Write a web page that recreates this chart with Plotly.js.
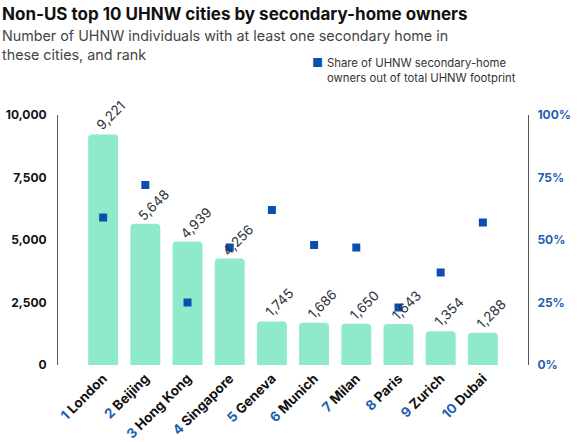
<!DOCTYPE html>
<html>
<head>
<meta charset="utf-8">
<script src="https://cdn.plot.ly/plotly-3.0.1.min.js"></script>
<style>html,body{margin:0;padding:0;background:#fff}#chart{width:578px;height:442px}</style>
</head>
<body>
<div id="chart"></div>
<script>
const ranks = ["1","2","3","4","5","6","7","8","9","10"];
const cities = ["London","Beijing","Hong Kong","Singapore","Geneva","Munich","Milan","Paris","Zurich","Dubai"];
const owners = [9221,5648,4939,4256,1745,1686,1650,1643,1354,1288];
const sharePct = [59,72,25,47,62,48,47,23,37,57];
const leftTicks = [0,2500,5000,7500,10000];
const rightTicks = [0,25,50,75,100];

const FONT = "Inter, 'Noto Sans', sans-serif";
const BLUE = "#0b4fae";
const tickText = cities.map((c,i)=>`<span style="color:#1f5fb0">${ranks[i]}</span> ${c}`);

const bars = {
  type:'bar', x:cities, y:owners,
  marker:{color:'#8eeac8', cornerradius:4},
  width:0.71,
  hoverinfo:'skip', showlegend:false
};
const pts = {
  type:'scatter', mode:'markers', x:cities, y:sharePct, yaxis:'y2',
  marker:{symbol:'square', size:8, color:BLUE},
  name:'Share of UHNW secondary-home owners out of total UHNW footprint',
  showlegend:false, cliponaxis:false
};

const valueLabels = cities.map((c,i)=>({
  x:c, y:owners[i], xref:'x', yref:'y', showarrow:false,
  text:owners[i].toLocaleString('en-US'), textangle:-45,
  xanchor:'center', yanchor:'middle', xshift:8, yshift:19,
  font:{family:FONT,size:13.5,color:'#2e3440'}
}));

const layout = {
  width:578, height:442,
  margin:{l:58, r:50, t:115, b:77},
  paper_bgcolor:'#fff', plot_bgcolor:'#fff',
  font:{family:FONT, color:'#111'},
  xaxis:{
    type:'category', range:[-1.07,10.07], tickangle:-45,
    tickmode:'array', tickvals:cities, ticktext:tickText,
    tickfont:{family:FONT,size:13.5,color:'#111',weight:700},
    showgrid:false, showline:false, zeroline:false, ticks:'', ticklabelstandoff:2
  },
  yaxis:{
    range:[0,10000], tickvals:leftTicks,
    ticktext:leftTicks.map(v=>v.toLocaleString('en-US')),
    tickfont:{family:FONT,size:12,color:'#111',weight:700},
    showgrid:false, zeroline:false, showline:true, linecolor:'#555', linewidth:1,
    ticks:'', ticklabelstandoff:8
  },
  yaxis2:{
    overlaying:'y', side:'right', range:[0,100], tickvals:rightTicks,
    ticktext:rightTicks.map(v=>v+'%'),
    tickfont:{family:FONT,size:12,color:'#1f5fb0',weight:700},
    showgrid:false, zeroline:false, showline:true, linecolor:'#555', linewidth:1,
    ticks:'', ticklabelstandoff:6
  },
  annotations:[
    {xref:'paper',yref:'paper',x:-58/470,y:1+(115-14)/250,xanchor:'left',yanchor:'middle',showarrow:false,
     text:'<b>Non-US top 10 UHNW cities by secondary-home owners</b>',font:{family:FONT,size:17,color:'#111'}},
    {xref:'paper',yref:'paper',x:-58/470,y:1+(115-45)/250,xanchor:'left',yanchor:'middle',showarrow:false,align:'left',
     text:'Number of UHNW individuals with at least one secondary home in<br>these cities, and rank',font:{family:FONT,size:14.3,color:'#444'}},
    {xref:'paper',yref:'paper',x:(317-58)/470,y:1+(115-62)/250,xanchor:'center',yanchor:'middle',showarrow:false,
     text:'■',font:{family:FONT,size:12,color:BLUE}},
    {xref:'paper',yref:'paper',x:(325-58)/470,y:1+(115-70)/250,xanchor:'left',yanchor:'middle',showarrow:false,align:'left',
     text:'Share of UHNW secondary-home<br>owners out of total UHNW footprint',font:{family:FONT,size:11.3,color:'#333'}}
  ].concat(valueLabels)
};
Plotly.newPlot('chart',[bars,pts],layout,{displayModeBar:false,staticPlot:true});
</script>
</body>
</html>
